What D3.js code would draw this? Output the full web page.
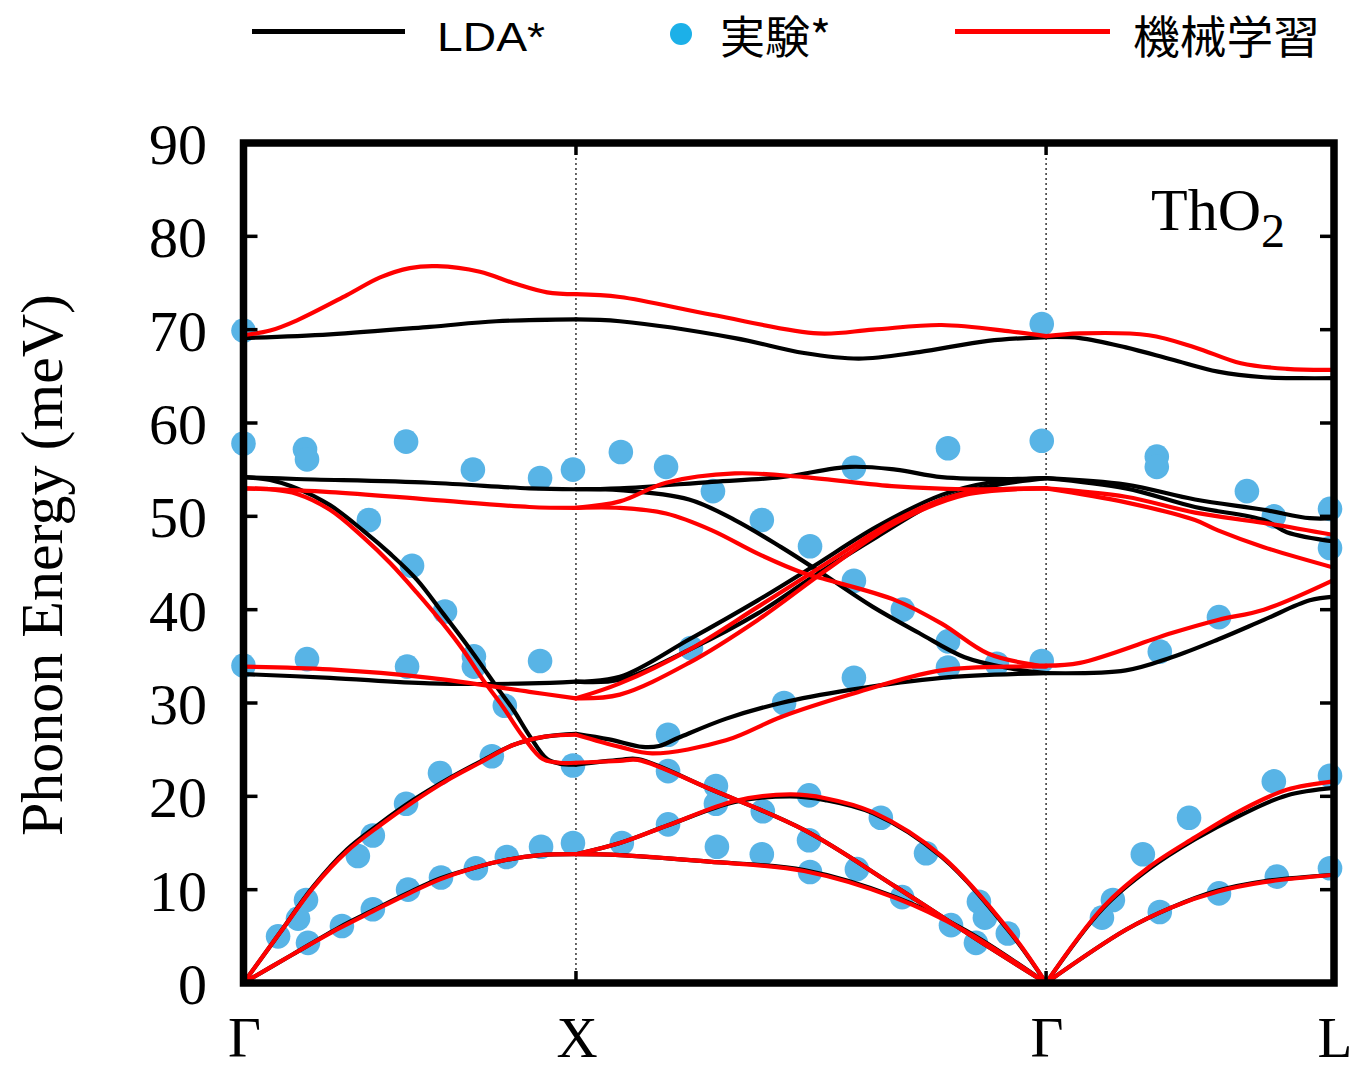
<!DOCTYPE html>
<html>
<head>
<meta charset="utf-8">
<script src="https://cdn.jsdelivr.net/npm/d3@7"></script>
<style>
  body { margin: 0; background: #fff; }
  svg { display: block; }
</style>
</head>
<body>
<svg id="chart" width="1353" height="1070"></svg>
<script>
// High-symmetry points along the path (distance in units of 2π/a)
const kPoints = [
  { label: "Γ", q: 0 },
  { label: "X", q: 1 },
  { label: "Γ", q: 2.414 },
  { label: "L", q: 3.280 }
];
const energyTicks = [0, 10, 20, 30, 40, 50, 60, 70, 80, 90];

// LDA phonon branches, [q, meV]
const ldaGX = [
  [[0,69.1],[0.26,69.5],[0.56,70.3],[0.76,70.9],[1,71.1]],
  [[0,54.2],[0.16,54.0],[0.56,53.6],[0.86,53.0],[1,52.9]],
  [[0,54.2],[0.08,53.9],[0.161,53.0],[0.26,51.2],[0.359,48.5],[0.441,46.0],[0.522,43.2],[0.60,39.6],[0.66,36.8],[0.711,34.3],[0.762,31.7],[0.811,29.3],[0.862,26.4],[0.913,24.0],[0.95,23.5],[1,23.4]],
  [[0,33.1],[0.26,32.7],[0.56,32.1],[0.86,32.1],[1,32.3]],
  [[0,0],[0.11,5.4],[0.209,10.3],[0.311,14.3],[0.411,17.1],[0.51,19.6],[0.612,21.8],[0.711,23.7],[0.811,25.5],[0.907,26.4],[1,26.7]],
  [[0,0],[0.145,3.0],[0.29,6.0],[0.39,7.8],[0.492,9.6],[0.591,11.2],[0.69,12.3],[0.792,13.2],[0.892,13.7],[1,13.8]]
];
const ldaXG = [
  [[1,71.1],[1.132,70.9],[1.478,69.1],[1.686,67.5],[1.851,66.9],[2.032,67.6],[2.239,68.8],[2.414,69.2]],
  [[1,52.9],[1.132,53.0],[1.409,53.7],[1.617,54.2],[1.824,55.3],[1.962,55.0],[2.1,54.2],[2.308,54.0],[2.414,54.1]],
  [[1,52.9],[1.132,52.8],[1.34,51.8],[1.478,49.6],[1.617,46.7],[1.74,43.9],[1.893,40.3],[2.032,37.5],[2.169,34.9],[2.308,33.7],[2.414,33.2]],
  [[1,32.3],[1.132,32.8],[1.34,36.8],[1.547,41.0],[1.712,44.6],[1.905,48.9],[2.1,52.3],[2.239,53.6],[2.414,54.1]],
  [[1,32.3],[1.132,32.5],[1.34,35.7],[1.547,39.6],[1.712,43.5],[1.905,47.8],[2.1,51.8],[2.239,53.2],[2.414,54.1]],
  [[1,26.7],[1.1,26.1],[1.2,25.3],[1.25,25.4],[1.31,26.3],[1.45,28.3],[1.617,30.0],[1.824,31.4],[2.1,32.7],[2.414,33.2]],
  [[1,23.4],[1.132,23.9],[1.186,24.0],[1.409,20.7],[1.686,16.4],[1.962,10.3],[2.239,3.9],[2.414,0]],
  [[1,13.8],[1.132,15.0],[1.277,16.9],[1.478,19.4],[1.644,20.0],[1.75,19.6],[1.893,18.2],[2.1,13.5],[2.308,5.3],[2.414,0]],
  [[1,13.8],[1.132,13.7],[1.4,13.0],[1.686,12.1],[1.962,9.2],[2.169,5.7],[2.414,0]]
];
const ldaGL = [
  [[2.414,69.2],[2.516,69.1],[2.654,68.1],[2.792,66.8],[2.931,65.5],[3.069,64.9],[3.18,64.8],[3.28,64.8]],
  [[2.414,54.1],[2.654,53.4],[2.862,51.8],[3.069,50.7],[3.207,49.8],[3.28,49.8]],
  [[2.414,54.1],[2.654,53.0],[2.862,51.0],[3.069,49.6],[3.138,48.3],[3.28,47.3]],
  [[2.414,33.2],[2.654,33.5],[2.792,34.9],[2.931,36.8],[3.069,38.9],[3.207,41.0],[3.28,41.4]],
  [[2.414,0],[2.585,8.0],[2.723,12.2],[2.862,15.4],[3.0,18.0],[3.138,20.1],[3.28,20.9]],
  [[2.414,0],[2.654,5.7],[2.792,8.1],[2.931,9.9],[3.069,10.9],[3.28,11.6]]
];

// Machine-learning potential branches, [q, meV]
const mlGX = [
  [[0,69.4],[0.08,69.9],[0.161,71.0],[0.311,73.7],[0.411,75.6],[0.5,76.6],[0.582,76.8],[0.711,76.2],[0.811,75.0],[0.913,74.0],[1,73.8]],
  [[0,53.0],[0.26,52.6],[0.56,51.8],[0.86,51.0],[1,50.9]],
  [[0,53.0],[0.08,52.9],[0.161,52.4],[0.26,50.7],[0.359,47.8],[0.441,45.0],[0.522,41.8],[0.60,38.5],[0.66,35.7],[0.72,32.5],[0.78,29.6],[0.841,26.4],[0.90,24.0],[0.95,23.6],[1,23.6]],
  [[0,33.9],[0.26,33.6],[0.56,32.7],[0.86,31.2],[1,30.5]],
  [[0,0],[0.11,5.4],[0.209,10.2],[0.311,14.1],[0.411,16.9],[0.51,19.4],[0.612,21.7],[0.711,23.6],[0.811,25.5],[0.907,26.4],[1,26.6]],
  [[0,0],[0.145,3.0],[0.29,5.9],[0.39,7.7],[0.492,9.5],[0.591,11.1],[0.69,12.3],[0.792,13.2],[0.892,13.7],[1,13.8]]
];
const mlXG = [
  [[1,73.8],[1.132,73.5],[1.409,71.6],[1.728,69.6],[1.893,70.0],[2.1,70.5],[2.308,69.8],[2.414,69.3]],
  [[1,50.9],[1.132,51.6],[1.271,53.6],[1.478,54.6],[1.686,54.2],[1.962,53.2],[2.169,52.9],[2.414,53.0]],
  [[1,50.9],[1.132,50.9],[1.271,50.3],[1.409,48.5],[1.547,46.0],[1.686,43.9],[1.755,43.2],[1.962,41.0],[2.1,38.5],[2.239,35.3],[2.377,34.1],[2.414,34.0]],
  [[1,30.5],[1.132,32.1],[1.34,35.7],[1.547,40.3],[1.755,45.0],[1.962,49.6],[2.169,52.5],[2.414,53.0]],
  [[1,30.5],[1.132,30.9],[1.34,34.3],[1.547,38.9],[1.755,44.3],[1.962,49.3],[2.169,52.3],[2.414,53.0]],
  [[1,26.6],[1.132,25.3],[1.229,24.6],[1.451,26.0],[1.617,28.5],[1.824,30.9],[2.1,33.5],[2.414,33.9]],
  [[1,23.6],[1.132,23.8],[1.186,23.9],[1.409,20.7],[1.686,16.4],[1.962,10.3],[2.239,3.9],[2.414,0]],
  [[1,13.8],[1.132,15.0],[1.277,16.9],[1.478,19.5],[1.644,20.2],[1.75,19.8],[1.893,18.3],[2.1,13.6],[2.308,5.4],[2.414,0]],
  [[1,13.8],[1.132,13.7],[1.4,13.0],[1.686,12.0],[1.962,9.1],[2.169,5.6],[2.414,0]]
];
const mlGL = [
  [[2.414,69.3],[2.516,69.6],[2.723,69.4],[2.862,68.1],[3.0,66.4],[3.138,65.8],[3.28,65.7]],
  [[2.414,53.0],[2.654,52.1],[2.862,50.4],[3.069,49.3],[3.28,48.0]],
  [[2.414,53.0],[2.654,51.5],[2.862,49.6],[2.931,48.5],[3.069,46.7],[3.28,44.5]],
  [[2.414,34.0],[2.516,34.3],[2.792,37.5],[2.931,38.9],[3.069,40.0],[3.28,43.2]],
  [[2.414,0],[2.585,8.1],[2.723,12.4],[2.862,15.6],[3.0,18.5],[3.138,20.7],[3.28,21.6]],
  [[2.414,0],[2.654,5.7],[2.792,8.1],[2.931,9.8],[3.069,10.8],[3.28,11.6]]
];

// Inelastic neutron scattering data, [q, meV]
const exptGX = [
  [0,69.9],[0,57.8],[0,34.0],[0.185,57.2],[0.191,56.1],[0.489,58.0],[0.377,49.6],[0.69,55.0],
  [0.892,54.1],[0.991,55.0],[0.507,44.7],[0.606,39.8],[0.693,35.0],[0.693,33.9],[0.191,34.7],
  [0.492,33.9],[0.892,34.5],[0.786,29.7],[0.991,23.3],
  [0.104,5.0],[0.164,6.9],[0.188,8.9],[0.344,13.6],[0.389,15.8],[0.489,19.2],[0.591,22.5],[0.747,24.3],
  [0.194,4.3],[0.296,6.1],[0.389,7.9],[0.495,10.0],[0.594,11.3],[0.699,12.3],[0.792,13.5],[0.895,14.6],[0.991,15.0]
];
const exptXG = [
  [1.135,56.9],[1.271,55.3],[1.412,52.7],[1.559,49.6],[1.704,46.8],[1.836,55.2],[2.119,57.3],[2.401,58.1],
  [2.401,70.6],[1.836,43.1],[1.983,40.0],[2.119,36.6],[2.119,33.8],[2.266,34.2],[2.401,34.5],[1.346,35.9],
  [1.836,32.7],[1.626,30.0],[1.277,26.6],[1.277,22.7],[1.421,21.1],[1.421,19.2],[1.562,18.4],[1.701,20.1],
  [1.701,15.3],[1.277,17.0],[1.138,15.0],[1.424,14.6],[1.559,13.8],[1.704,11.9],[1.845,12.2],[1.917,17.7],
  [2.053,13.9],[1.981,9.2],[2.128,6.2],[2.203,4.3],[2.212,8.7],[2.23,7.0],[2.299,5.3]
];
const exptGL = [
  [2.747,56.4],[2.747,55.3],[3.018,52.7],[3.099,50.0],[3.268,50.8],[3.268,46.6],[2.934,39.2],[2.756,35.5],
  [2.582,7.0],[2.615,8.9],[2.705,13.8],[2.844,17.7],[2.756,7.6],[2.934,9.6],[3.108,11.4],[3.099,21.6],
  [3.268,22.2],[3.268,12.3]
];

const legendItems = [
  { text: "LDA*", kind: "line", color: "#000000" },
  { text: "実験*", kind: "dot", color: "#1cb0e8" },
  { text: "機械学習", kind: "line", color: "#ff0000" }
];

const svg = d3.select("#chart");
svg.append("rect").attr("width", 1353).attr("height", 1070).attr("fill", "#fff");

const x = d3.scaleLinear().domain([0, 3.280]).range([243.5, 1334]);
const y = d3.scaleLinear().domain([0, 90]).range([983, 143]);

const serif = "'Liberation Serif', 'Times New Roman', serif";
const dotColor = "#58b4e6";

// dotted guides at interior symmetry points
svg.append("g").selectAll("line")
  .data(kPoints.slice(1, 3))
  .join("line")
  .attr("x1", d => x(d.q)).attr("x2", d => x(d.q))
  .attr("y1", y(90)).attr("y2", y(0))
  .attr("stroke", "#000").attr("stroke-width", 1.2)
  .attr("stroke-dasharray", "2,3");

// experimental points
const expt = exptGX.concat(exptXG, exptGL);
svg.append("g").selectAll("circle")
  .data(expt)
  .join("circle")
  .attr("cx", d => x(d[0])).attr("cy", d => y(d[1]))
  .attr("r", 12.3)
  .attr("fill", dotColor);

const line = d3.line()
  .x(d => x(d[0])).y(d => y(d[1]))
  .curve(d3.curveCatmullRom.alpha(0.5));

function drawBands(bands, color, width) {
  svg.append("g").selectAll("path")
    .data(bands)
    .join("path")
    .attr("d", line)
    .attr("fill", "none")
    .attr("stroke", color)
    .attr("stroke-width", width)
    .attr("stroke-linejoin", "round")
    .attr("stroke-linecap", "round");
}
drawBands(ldaGX.concat(ldaXG, ldaGL), "#000", 4.2);
drawBands(mlGX.concat(mlXG, mlGL), "#ff0000", 4.2);

// frame, ticks and labels
const frame = svg.append("g");
frame.append("rect")
  .attr("x", x(0)).attr("y", y(90))
  .attr("width", x(3.28) - x(0)).attr("height", y(0) - y(90))
  .attr("fill", "none").attr("stroke", "#000").attr("stroke-width", 7.5);

const yTick = frame.append("g");
energyTicks.forEach(v => {
  yTick.append("line").attr("x1", x(0)).attr("x2", x(0) + 14)
    .attr("y1", y(v)).attr("y2", y(v)).attr("stroke", "#000").attr("stroke-width", 3.5);
  yTick.append("line").attr("x1", x(3.28) - 14).attr("x2", x(3.28))
    .attr("y1", y(v)).attr("y2", y(v)).attr("stroke", "#000").attr("stroke-width", 3.5);
  yTick.append("text")
    .attr("x", 207).attr("y", y(v) + 21)
    .attr("text-anchor", "end")
    .attr("font-family", serif).attr("font-size", 58)
    .text(v);
});

kPoints.forEach(k => {
  frame.append("line").attr("x1", x(k.q)).attr("x2", x(k.q))
    .attr("y1", y(0)).attr("y2", y(0) - 12).attr("stroke", "#000").attr("stroke-width", 3.5);
  frame.append("line").attr("x1", x(k.q)).attr("x2", x(k.q))
    .attr("y1", y(90)).attr("y2", y(90) + 12).attr("stroke", "#000").attr("stroke-width", 3.5);
  frame.append("text")
    .attr("x", x(k.q) + 1).attr("y", 1057)
    .attr("text-anchor", "middle")
    .attr("font-family", serif).attr("font-size", 57)
    .text(k.label);
});

svg.append("text")
  .attr("transform", "translate(62,565) rotate(-90)")
  .attr("text-anchor", "middle")
  .attr("font-family", serif).attr("font-size", 60)
  .text("Phonon Energy (meV)");

const compound = svg.append("text")
  .attr("x", 1151).attr("y", 230)
  .attr("font-family", serif).attr("font-size", 60);
compound.append("tspan").text("ThO");
compound.append("tspan").attr("font-size", 48).attr("dy", 17).text("2");

// legend
const legend = svg.append("g");
legend.append("line").attr("x1", 252).attr("x2", 405).attr("y1", 31.5).attr("y2", 31.5)
  .attr("stroke", legendItems[0].color).attr("stroke-width", 5);
legend.append("text").attr("x", 437).attr("y", 51)
  .attr("font-family", "'Liberation Sans', Arial, sans-serif").attr("font-size", 41)
  .attr("textLength", 108).attr("lengthAdjust", "spacingAndGlyphs")
  .text(legendItems[0].text);
legend.append("circle").attr("cx", 681).attr("cy", 34).attr("r", 11)
  .attr("fill", legendItems[1].color);
legend.append("text").attr("x", 720).attr("y", 54)
  .attr("font-family", "'Noto Sans CJK JP', sans-serif").attr("font-size", 45)
  .text(legendItems[1].text);
legend.append("line").attr("x1", 955).attr("x2", 1110).attr("y1", 31.5).attr("y2", 31.5)
  .attr("stroke", legendItems[2].color).attr("stroke-width", 5);
legend.append("text").attr("x", 1133).attr("y", 54)
  .attr("font-family", "'Noto Sans CJK JP', sans-serif").attr("font-size", 45)
  .attr("textLength", 187).attr("lengthAdjust", "spacingAndGlyphs")
  .text(legendItems[2].text);
</script>
</body>
</html>
